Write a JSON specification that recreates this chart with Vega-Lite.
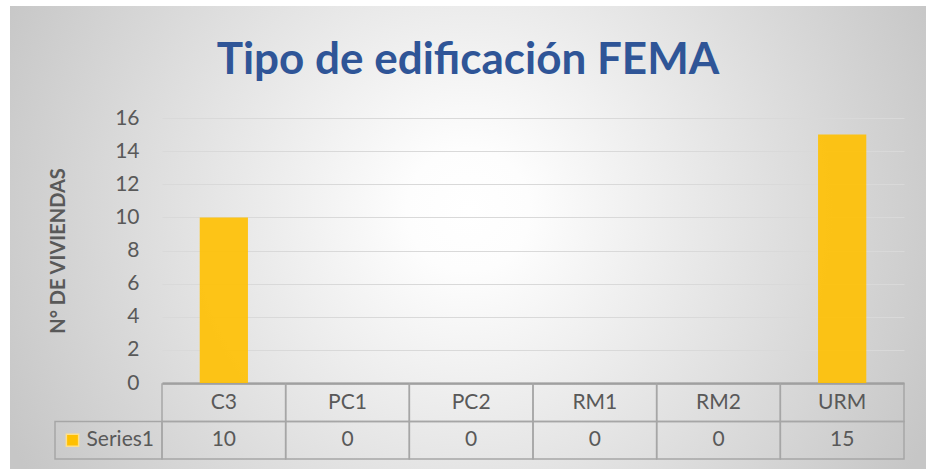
{
  "$schema": "https://vega.github.io/schema/vega-lite/v6.json",
  "width": 916,
  "height": 463,
  "padding": {"left": 10, "top": 6, "right": 0, "bottom": 0},
  "background": "white",
  "config": {"font": "Lato", "view": {"stroke": null}},
  "view": {
    "stroke": null,
    "fill": {
      "gradient": "radial",
      "x1": 0.5, "y1": 0.47, "x2": 0.5, "y2": 0.47,
      "r1": 0, "r2": 0.56,
      "stops": [
        {"offset": 0, "color": "#ffffff"},
        {"offset": 0.12, "color": "#fdfdfd"},
        {"offset": 1, "color": "#c6c6c6"}
      ]
    }
  },
  "title": {
    "text": "Tipo de edificación FEMA",
    "font": "Lato",
    "fontSize": 44,
    "fontWeight": "bold",
    "color": "#2F5597",
    "anchor": "middle",
    "baseline": "alphabetic",
    "offset": -112
  },
  "datasets": {
    "fema": [
      {"cat": "C3", "value": 10},
      {"cat": "PC1", "value": 0},
      {"cat": "PC2", "value": 0},
      {"cat": "RM1", "value": 0},
      {"cat": "RM2", "value": 0},
      {"cat": "URM", "value": 15}
    ],
    "series": [{"series": "Series1"}]
  },
  "layer": [
    {
      "data": {"name": "fema"},
      "mark": {"type": "bar", "width": {"band": 0.39}, "color": "#FFC000", "opacity": 0.9},
      "encoding": {
        "x": {
          "field": "cat", "type": "nominal", "sort": null,
          "scale": {"domain": ["C3", "PC1", "PC2", "RM1", "RM2", "URM"], "range": [152, 894], "paddingInner": 0, "paddingOuter": 0},
          "axis": null
        },
        "y": {
          "field": "value", "type": "quantitative",
          "scale": {"domain": [0, 16], "range": [377, 112], "nice": false, "zero": true},
          "axis": {
            "offset": -152,
            "values": [0, 2, 4, 6, 8, 10, 12, 14, 16],
            "grid": true,
            "gridColor": {"condition": {"test": "datum.value === 0", "value": "#8c8c8c"}, "value": "#d9d9d9"},
            "gridWidth": {"condition": {"test": "datum.value === 0", "value": 2}, "value": 1},
            "domain": false,
            "ticks": false,
            "tickSize": 0,
            "labelPadding": 23,
            "labelFontSize": 21,
            "labelFont": "Lato",
            "labelColor": "#595959",
            "title": "N° DE VIVIENDAS",
            "titleFont": "Lato",
            "titleFontSize": 20,
            "titleFontWeight": "bold",
            "titleColor": "#595959",
            "titlePadding": 46
          }
        }
      }
    },
    {
      "data": {"name": "fema"},
      "mark": {"type": "rect", "fill": "transparent", "stroke": "#a6a6a6", "strokeWidth": 1.5},
      "encoding": {
        "x": {
          "field": "cat", "type": "nominal", "sort": null,
          "scale": {"domain": ["C3", "PC1", "PC2", "RM1", "RM2", "URM"], "range": [152, 894], "paddingInner": 0, "paddingOuter": 0},
          "axis": null
        },
        "y": {
          "datum": "header", "type": "nominal",
          "scale": {"domain": ["header", "Series1"], "range": [378, 453], "paddingInner": 0, "paddingOuter": 0},
          "axis": null
        }
      }
    },
    {
      "data": {"name": "fema"},
      "mark": {"type": "rect", "fill": "transparent", "stroke": "#a6a6a6", "strokeWidth": 1.5},
      "encoding": {
        "x": {
          "field": "cat", "type": "nominal", "sort": null,
          "scale": {"domain": ["C3", "PC1", "PC2", "RM1", "RM2", "URM"], "range": [152, 894], "paddingInner": 0, "paddingOuter": 0},
          "axis": null
        },
        "y": {
          "datum": "Series1", "type": "nominal",
          "scale": {"domain": ["header", "Series1"], "range": [378, 453], "paddingInner": 0, "paddingOuter": 0},
          "axis": null
        }
      }
    },
    {
      "data": {"name": "fema"},
      "mark": {"type": "text", "fontSize": 21, "font": "Lato", "color": "#595959", "align": "center", "baseline": "middle"},
      "encoding": {
        "x": {
          "field": "cat", "type": "nominal", "sort": null,
          "scale": {"domain": ["C3", "PC1", "PC2", "RM1", "RM2", "URM"], "range": [152, 894], "paddingInner": 0, "paddingOuter": 0},
          "axis": null
        },
        "y": {
          "datum": "header", "type": "nominal",
          "scale": {"domain": ["header", "Series1"], "range": [378, 453], "paddingInner": 0, "paddingOuter": 0},
          "axis": null
        },
        "text": {"field": "cat", "type": "nominal"}
      }
    },
    {
      "data": {"name": "fema"},
      "mark": {"type": "text", "fontSize": 21, "font": "Lato", "color": "#595959", "align": "center", "baseline": "middle"},
      "encoding": {
        "x": {
          "field": "cat", "type": "nominal", "sort": null,
          "scale": {"domain": ["C3", "PC1", "PC2", "RM1", "RM2", "URM"], "range": [152, 894], "paddingInner": 0, "paddingOuter": 0},
          "axis": null
        },
        "y": {
          "datum": "Series1", "type": "nominal",
          "scale": {"domain": ["header", "Series1"], "range": [378, 453], "paddingInner": 0, "paddingOuter": 0},
          "axis": null
        },
        "text": {"field": "value", "type": "quantitative"}
      }
    },
    {
      "data": {"name": "series"},
      "mark": {"type": "rect", "fill": "transparent", "stroke": "#a6a6a6", "strokeWidth": 1.5},
      "encoding": {
        "x": {
          "field": "series", "type": "nominal",
          "scale": {"domain": ["Series1"], "range": [45, 152], "paddingInner": 0, "paddingOuter": 0},
          "axis": null
        },
        "y": {
          "field": "series", "type": "nominal",
          "scale": {"domain": ["header", "Series1"], "range": [378, 453], "paddingInner": 0, "paddingOuter": 0},
          "axis": null
        }
      }
    },
    {
      "data": {"name": "series"},
      "mark": {"type": "text", "fontSize": 21, "font": "Lato", "color": "#595959", "align": "right", "baseline": "middle"},
      "encoding": {
        "x": {
          "field": "series", "type": "nominal",
          "scale": {"domain": ["Series1"], "range": [136, 152], "paddingInner": 0, "paddingOuter": 0},
          "axis": null
        },
        "y": {
          "field": "series", "type": "nominal",
          "scale": {"domain": ["header", "Series1"], "range": [378, 453], "paddingInner": 0, "paddingOuter": 0},
          "axis": null
        },
        "text": {"field": "series", "type": "nominal"}
      }
    },
    {
      "data": {"name": "series"},
      "mark": {"type": "square", "size": 150, "filled": true, "color": "#FFC000", "stroke": "#FFE08A", "strokeWidth": 1.5, "opacity": 1},
      "encoding": {
        "x": {
          "field": "series", "type": "nominal",
          "scale": {"domain": ["Series1"], "range": [45, 80], "paddingInner": 0, "paddingOuter": 0},
          "axis": null
        },
        "y": {
          "field": "series", "type": "nominal",
          "scale": {"domain": ["header", "Series1"], "range": [378, 453], "paddingInner": 0, "paddingOuter": 0},
          "axis": null
        }
      }
    }
  ],
  "resolve": {
    "scale": {"x": "independent", "y": "independent"},
    "axis": {"x": "independent", "y": "independent"}
  }
}
